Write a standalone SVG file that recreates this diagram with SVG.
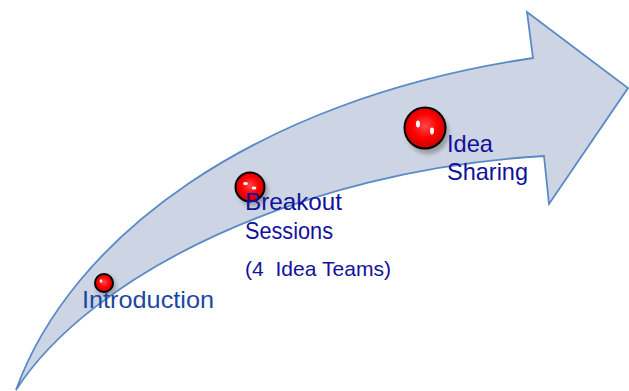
<svg xmlns="http://www.w3.org/2000/svg" width="629" height="391" viewBox="0 0 629 391">
  <defs>
    <radialGradient id="ballFill" cx="0.5" cy="0.45" r="0.55">
      <stop offset="0" stop-color="#ff4a4a"/>
      <stop offset="0.55" stop-color="#ff0000"/>
      <stop offset="1" stop-color="#c80000"/>
    </radialGradient>
    <filter id="soft" x="-50%" y="-50%" width="200%" height="200%">
      <feGaussianBlur stdDeviation="2"/>
    </filter>
    <filter id="glint" x="-100%" y="-100%" width="300%" height="300%">
      <feGaussianBlur stdDeviation="0.5"/>
    </filter>
  </defs>
  <style>
    .arrow { fill: #cdd5e4; stroke: #5a8ac6; stroke-width: 1.8; stroke-linejoin: miter; }
    .ball { fill: url(#ballFill); stroke: #000; stroke-width: 2; }
    .shadow { fill: #555; opacity: 0.45; filter: url(#soft); }
    .glint { fill: #fff; filter: url(#glint); }
    .label { font-family: "Liberation Sans", Arial, sans-serif; fill: #12119a; }
    .big { font-size: 24px; }
    .small { font-size: 21px; }
  </style>

  <rect width="629" height="391" fill="#fff"/>

  <!-- curved block arrow -->
  <g id="connectors">
    <path class="arrow" d="M16,390 C70,240 250,100 533,58 L527,12 L628,88 L549,204 L544,156 C300,170 90,275 16,390 Z"/>
  </g>

  <!-- step 1 -->
  <g id="introduction">
    <circle class="shadow" cx="106" cy="286" r="10"/>
    <circle class="ball" cx="104" cy="283" r="9"/>
    <ellipse class="glint" cx="101" cy="281" rx="1.3" ry="1.8"/>
    <text class="label big" x="82" y="307.5" textLength="132" lengthAdjust="spacingAndGlyphs" style="fill:#1c47a2">Introduction</text>
  </g>

  <!-- step 2 -->
  <g id="breakout">
    <circle class="shadow" cx="253" cy="191" r="15"/>
    <circle class="ball" cx="250" cy="187" r="14.5"/>
    <ellipse class="glint" cx="245.5" cy="183.5" rx="2.4" ry="1.5"/>
    <ellipse class="glint" cx="254" cy="188" rx="2.4" ry="1.5"/>
    <text class="label big" x="245" y="210" textLength="97" lengthAdjust="spacingAndGlyphs">Breakout</text>
    <text class="label big" x="245" y="239" textLength="88" lengthAdjust="spacingAndGlyphs">Sessions</text>
    <text class="label small" x="245" y="276" textLength="146" lengthAdjust="spacingAndGlyphs" xml:space="preserve">(4  Idea Teams)</text>
  </g>

  <!-- step 3 -->
  <g id="idea-sharing">
    <circle class="shadow" cx="428" cy="133" r="21"/>
    <circle class="ball" cx="425" cy="128" r="20.5"/>
    <ellipse class="glint" cx="418" cy="124" rx="2" ry="3.4"/>
    <ellipse class="glint" cx="432" cy="131" rx="2" ry="3.4"/>
    <text class="label big" x="447" y="152" textLength="46" lengthAdjust="spacingAndGlyphs">Idea</text>
    <text class="label big" x="447" y="180" textLength="81" lengthAdjust="spacingAndGlyphs">Sharing</text>
  </g>
</svg>
